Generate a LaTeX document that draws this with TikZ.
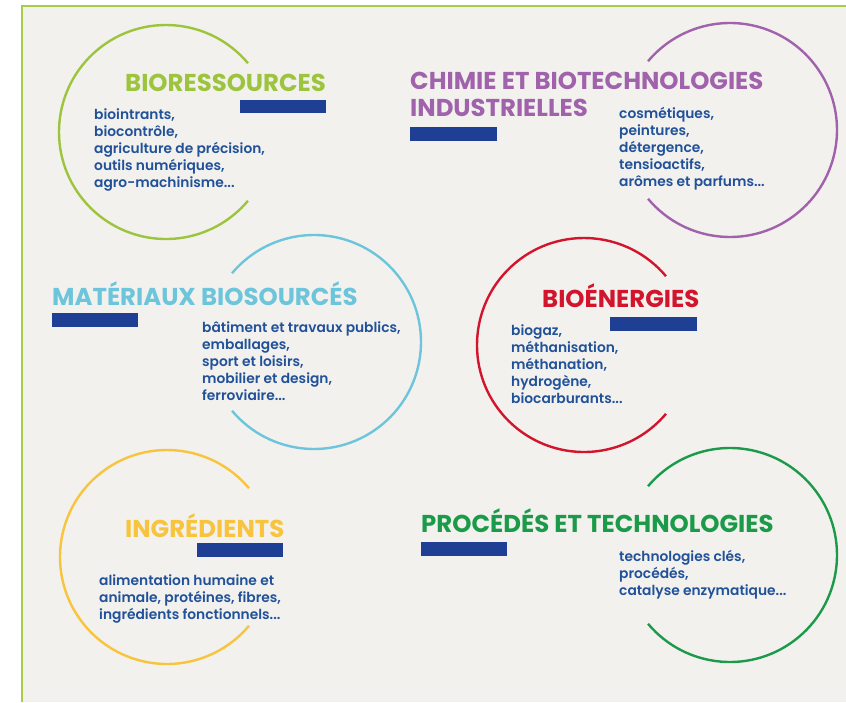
\documentclass[tikz,border=0pt]{standalone}
\usepackage{fontspec}
\setmainfont{Poppins}
\newfontfamily\bodyfont{Poppins SemiBold}
\definecolor{bg}{HTML}{F2F1EE}
\definecolor{frame}{HTML}{A9CC45}
\definecolor{cBio}{HTML}{9CC43C}
\definecolor{cChim}{HTML}{A062AA}
\definecolor{cMat}{HTML}{6DC5DB}
\definecolor{cEner}{HTML}{D2142C}
\definecolor{cIngr}{HTML}{F8C43E}
\definecolor{cProc}{HTML}{1B9A4A}
\definecolor{barblue}{HTML}{1E3F93}
\definecolor{bodyblue}{HTML}{215199}
\tikzset{
  ring/.style={line width=2.4pt},
  title/.style={anchor=base west, inner sep=0pt, font=\fontsize{24.4}{28}\selectfont\bfseries},
  body/.style={anchor=base west, inner sep=0pt, align=left, text=bodyblue, font=\bodyfont\fontsize{13.8}{17}\selectfont},
  bar/.style={fill=barblue, draw=none}
}
\begin{document}
\begin{tikzpicture}[x=1pt,y=-1pt]
\useasboundingbox (0,0) rectangle (846,702);
\fill[white] (0,0) rectangle (846,702);
\fill[bg] (22,6) rectangle (846,702);
\draw[frame, line width=2pt] (22,702) -- (22,6) -- (846,6);
% centres
\coordinate (c1) at (166,132);
\coordinate (c2) at (730,130);
\coordinate (c3) at (314,342);
\coordinate (c4) at (584,345);
\coordinate (c5) at (167,557);
\coordinate (c6) at (730,555);
% rings
\draw[ring, cBio]  ([shift={(40:107pt)}]c1) arc[start angle=40, end angle=320, radius=107pt];
\draw[ring, cChim] ([shift={(-140:107pt)}]c2) arc[start angle=-140, end angle=140, radius=107pt];
\draw[ring, cMat]  ([shift={(-140:107pt)}]c3) arc[start angle=-140, end angle=140, radius=107pt];
\draw[ring, cEner] ([shift={(40:107pt)}]c4) arc[start angle=40, end angle=320, radius=107pt];
\draw[ring, cIngr] ([shift={(40:107pt)}]c5) arc[start angle=40, end angle=320, radius=107pt];
\draw[ring, cProc] ([shift={(-140:107pt)}]c6) arc[start angle=-140, end angle=140, radius=107pt];
% titles
\node[title, text=cBio] (t1) at (125,91) {BIORESSOURCES};
\node[title, text=cChim] (t2a) at (410,89) {CHIMIE ET BIOTECHNOLOGIES};
\node[title, text=cChim] (t2b) at (410,116) {INDUSTRIELLES};
\node[title, text=cMat] (t3) at (52,305) {MATÉRIAUX BIOSOURCÉS};
\node[title, text=cEner] (t4) at (542,307) {BIOÉNERGIES};
\node[title, text=cIngr] (t5) at (125,537) {INGRÉDIENTS};
\node[title, text=cProc] (t6) at (421,532) {PROCÉDÉS ET TECHNOLOGIES};
% bars
\fill[bar] (240,100) rectangle (326,113);
\fill[bar] (410,127) rectangle (497,141);
\fill[bar] (52,313) rectangle (138,327);
\fill[bar] (610,317) rectangle (697,331);
\fill[bar] (197,543) rectangle (283,557);
\fill[bar] (421,542) rectangle (507,556);
% bodies (anchored at the baseline of the last line)
\node[body] (b1) at (94,187) {biointrants,\\biocontrôle,\\agriculture de précision,\\outils numériques,\\agro-machinisme...};
\node[body] (b2) at (619,186) {cosmétiques,\\peintures,\\détergence,\\tensioactifs,\\arômes et parfums...};
\node[body] (b3) at (202,400) {bâtiment et travaux publics,\\emballages,\\sport et loisirs,\\mobilier et design,\\ferroviaire...};
\node[body] (b4) at (511,403) {biogaz,\\méthanisation,\\méthanation,\\hydrogène,\\biocarburants...};
\node[body] (b5) at (99,619) {alimentation humaine et\\animale, protéines, fibres,\\ingrédients fonctionnels...};
\node[body] (b6) at (619,595) {technologies clés,\\procédés,\\catalyse enzymatique...};
\end{tikzpicture}
\end{document}
